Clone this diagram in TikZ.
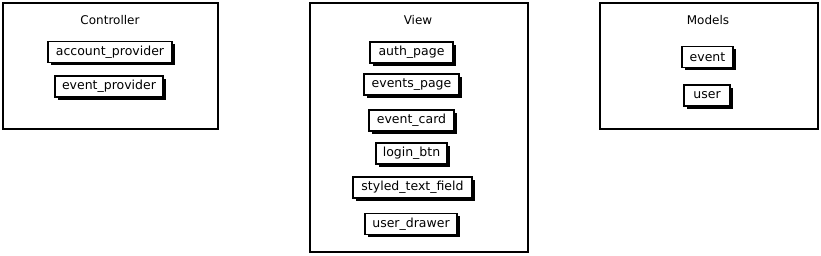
\documentclass[tikz,border=0pt]{standalone}
\usepackage{fontspec}
\setmainfont{DejaVu Sans}
\usetikzlibrary{shadows}
\definecolor{skink}{HTML}{000000}
\newcommand{\skpanel}[3]{%
  \draw[panel] #1 rectangle #2;
  #3}

\begin{document}
\begin{tikzpicture}[x=1pt, y=-1pt,
    panel/.style={draw=skink, line width=1.5pt},
    paneltitle/.style={font=\fontsize{12}{14}\selectfont},
    comp/.style={draw=skink, fill=white, line width=1.6pt,
                 minimum height=21pt, inner sep=0pt,
                 font=\fontsize{12.5}{14}\selectfont,
                 drop shadow={shadow xshift=2.5pt, shadow yshift=-2.5pt,
                              fill=skink, opacity=1}}]
  \useasboundingbox (0,0) rectangle (821,255);
  % controller
  \skpanel{(3,3)}{(218,129)}{%
    \node[paneltitle] (controller) at (110,20) {Controller};
    \foreach \nm/\lbl/\x/\y/\w in {accountprovider/account\_provider/110/52/124,
                                   eventprovider/event\_provider/109/86.5/108}
      {\node[comp, minimum width=\w pt] (\nm) at (\x,\y) {\lbl};}}
  % view
  \skpanel{(310,3)}{(528,252)}{%
    \node[paneltitle] (view) at (418,20) {View};
    \foreach \nm/\lbl/\x/\y/\w in {authpage/auth\_page/411.5/52.5/83,
                                   eventspage/events\_page/411.5/84.5/95,
                                   eventcard/event\_card/411.5/120.5/85,
                                   loginbtn/login\_btn/411.5/153.5/71,
                                   styledtextfield/styled\_text\_field/412.5/187.5/119,
                                   userdrawer/user\_drawer/411/224/92}
      {\node[comp, minimum width=\w pt] (\nm) at (\x,\y) {\lbl};}}
  % models
  \skpanel{(600,3)}{(818,129)}{%
    \node[paneltitle] (models) at (708,20) {Models};
    \foreach \nm/\lbl/\x/\y/\w in {event/event/707.5/57/51,
                                   user/user/707/95.5/46}
      {\node[comp, minimum width=\w pt] (\nm) at (\x,\y) {\lbl};}}
\end{tikzpicture}
\end{document}
